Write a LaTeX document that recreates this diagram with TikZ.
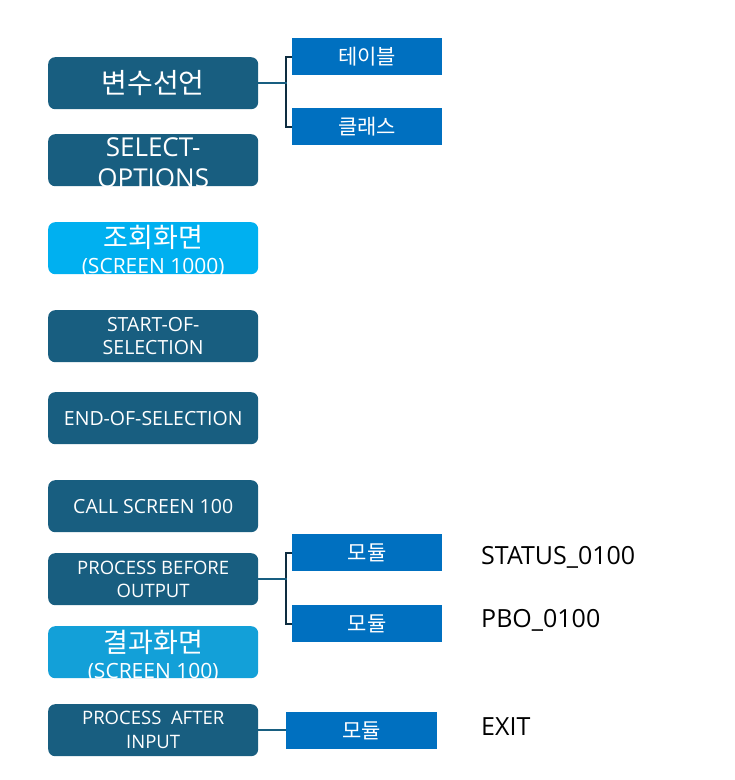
\documentclass[tikz,border=0pt]{standalone}
\usepackage{fontspec}
\setmainfont{Open Sans}
\newfontfamily\kr{Noto Sans CJK KR}
\definecolor{tealbox}{HTML}{185E80}
\definecolor{lbone}{HTML}{00B0F0}
\definecolor{lbtwo}{HTML}{13A0D8}
\definecolor{modbox}{HTML}{0070C0}
\definecolor{brk}{HTML}{0E2D40}
\newcommand{\fs}[2]{\fontsize{#1}{#2}\selectfont}
\begin{document}
\begin{tikzpicture}[x=1pt,y=-1pt,
  lbox/.style={fill=tealbox, rounded corners=7pt, minimum width=210pt, minimum height=52pt,
    inner sep=0pt, text=white, align=center, anchor=north west},
  mbox/.style={fill=modbox, minimum width=150pt, minimum height=37pt, inner sep=0pt,
    text=white, anchor=north west, font=\kr\fs{21}{22}},
  lab/.style={anchor=west, inner sep=0pt, text=black, font=\fs{25}{26}},
  tline/.style={draw=tealbox, line width=2pt},
  bline/.style={draw=brk, line width=2pt}]
\useasboundingbox (0,0) rectangle (735,780);

\node[lbox, font=\kr\fs{28}{30}] (v) at (48,57) {변수선언};
\node[lbox] (so) at (48,134) {};
\node[text=white, align=center, font=\fs{26}{31}, inner sep=0pt] (sot) at ([yshift=-3pt]so.center) {SELECT-\\OPTIONS};
\node[lbox, fill=lbone] (s1) at (48,222) {};
\node[text=white, align=center, inner sep=0pt, font=\fs{21}{26}] (s1t) at ([yshift=-3pt]s1.center) {{\kr\fs{27}{27}조회화면}\\(SCREEN 1000)};
\node[lbox, font=\fs{19.5}{23}] (ss) at (48,310) {START-OF-\\SELECTION};
\node[lbox, font=\fs{19.5}{23}] (es) at (48,392) {END-OF-SELECTION};
\node[lbox, font=\fs{19.5}{23}] (cs) at (48,480) {CALL SCREEN 100};
\node[lbox, font=\fs{18.5}{23}] (pbo) at (48,553) {PROCESS BEFORE\\OUTPUT};
\node[lbox, fill=lbtwo] (s2) at (48,626) {};
\node[text=white, align=center, inner sep=0pt, font=\fs{21}{26}] (s2t) at ([yshift=-4pt]s2.center) {{\kr\fs{27}{27}결과화면}\\(SCREEN 100)};
\node[lbox, font=\fs{18.5}{24}] (pai) at (48,704) {PROCESS\ \ AFTER\\INPUT};

\node[mbox] (tab) at (292,38) {테이블};
\node[mbox] (cls) at (292,108) {클래스};
\node[mbox] (m1) at (292,534) {모듈};
\node[mbox] (m2) at (292,605) {모듈};
\node[mbox, minimum width=151pt] (m3) at (286,712) {모듈};

\node[lab] (t1) at (481,557) {STATUS\_0100};
\node[lab] (t2) at (481,620) {PBO\_0100};
\node[lab] (t3) at (481,727) {EXIT};

\draw[bline] (tab.west) -- ++(-6,0) |- (cls.west);
\draw[tline] (v.east) -- ([xshift=-5pt]v.east -| cls.west);
\draw[bline] (m1.west) -- ++(-6,0) |- (m2.west);
\draw[tline] (pbo.east) -- ([xshift=-5pt]pbo.east -| m2.west);
\draw[tline] (pai.east) -- (pai.east -| m3.west);
\end{tikzpicture}
\end{document}
